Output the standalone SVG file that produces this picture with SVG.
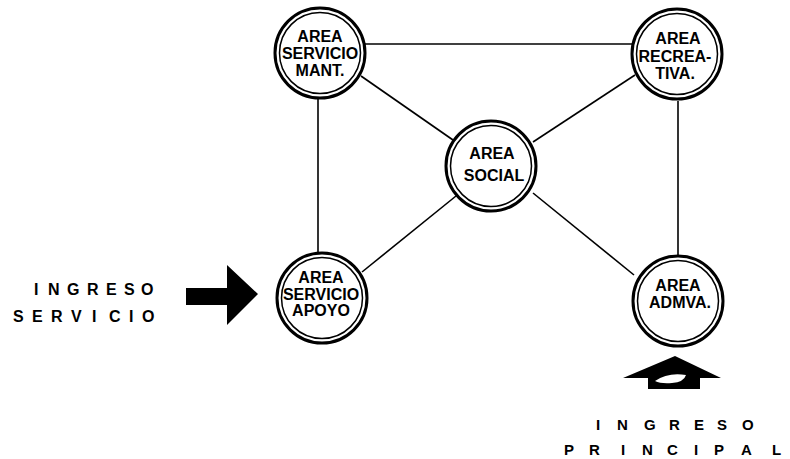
<svg xmlns="http://www.w3.org/2000/svg" width="790" height="459" viewBox="0 0 790 459">
<style>
.ring{fill:#fff;stroke:#000;stroke-width:3}
.inner{fill:none;stroke:#000;stroke-width:1.5}
.lbl{font-family:"Liberation Sans",Arial,sans-serif;font-weight:bold;font-size:16px;text-anchor:middle;fill:#000}
.ing{font-family:"Liberation Sans",Arial,sans-serif;font-weight:bold;font-size:16px;fill:#000}
.ing2{font-family:"Liberation Sans",Arial,sans-serif;font-weight:bold;font-size:15px;fill:#000}
.edge{stroke:#000;stroke-width:1.6;fill:none}
</style>
<rect width="790" height="459" fill="#fff"/>
<g id="connectors">
<line class="edge" x1="364" y1="44" x2="632" y2="44"/>
<line class="edge" x1="318" y1="99" x2="318" y2="254"/>
<line class="edge" x1="678" y1="101" x2="678" y2="256"/>
<line class="edge" x1="361" y1="76" x2="453" y2="140"/>
<line class="edge" x1="635" y1="75" x2="533" y2="142"/>
<line class="edge" x1="362" y1="272" x2="456" y2="196"/>
<line class="edge" x1="634" y1="275" x2="533" y2="193"/>
</g>
<g id="n-mant">
<circle class="ring" cx="320" cy="53" r="45"/>
<circle class="inner" cx="320" cy="53" r="40.5"/>
<text class="lbl" x="320" y="42">AREA</text>
<text class="lbl" x="320" y="59">SERVICIO</text>
<text class="lbl" x="320" y="76">MANT.</text>
</g>
<g id="n-recreativa">
<circle class="ring" cx="677" cy="54" r="45"/>
<circle class="inner" cx="677" cy="54" r="40.5"/>
<text class="lbl" x="678" y="44">AREA</text>
<text class="lbl" x="675" y="62">RECREA-</text>
<text class="lbl" x="675" y="79">TIVA.</text>
</g>
<g id="n-social">
<circle class="ring" cx="491" cy="166" r="45"/>
<circle class="inner" cx="491" cy="166" r="40.5"/>
<text class="lbl" x="492" y="159">AREA</text>
<text class="lbl" x="494" y="181">SOCIAL</text>
</g>
<g id="n-apoyo">
<circle class="ring" cx="322" cy="298" r="45"/>
<circle class="inner" cx="322" cy="298" r="40.5"/>
<text class="lbl" x="321" y="283">AREA</text>
<text class="lbl" x="321" y="300">SERVICIO</text>
<text class="lbl" x="321" y="316">APOYO</text>
</g>
<g id="n-admva">
<circle class="ring" cx="678" cy="301" r="45"/>
<circle class="inner" cx="678" cy="301" r="40.5"/>
<text class="lbl" x="678" y="291">AREA</text>
<text class="lbl" x="680" y="308">ADMVA.</text>
</g>
<g id="ingreso-servicio">
<text class="ing" x="34 48 67 87 106 124 141" y="295">INGRESO</text>
<text class="ing" x="13 32 51 71 92 109 129 142" y="322">SERVICIO</text>
<polygon points="186,288 227,288 227,265 258,294 227,325 227,305 186,305" fill="#000"/>
</g>
<g id="ingreso-principal">
<polygon points="675,356 721,378 700,378 700,389 648,389 648,378 623,378" fill="#000"/>
<path d="M655,381 Q668,372 686,375 Q684,382 672,383 Q661,384 655,381 Z" fill="#fff"/>
<text class="ing2" x="596 617 644 669 694 717 742" y="430">INGRESO</text>
<text class="ing2" x="564 589 621 642 667 694 714 741 772" y="455">PRINCIPAL</text>
</g>
</svg>
